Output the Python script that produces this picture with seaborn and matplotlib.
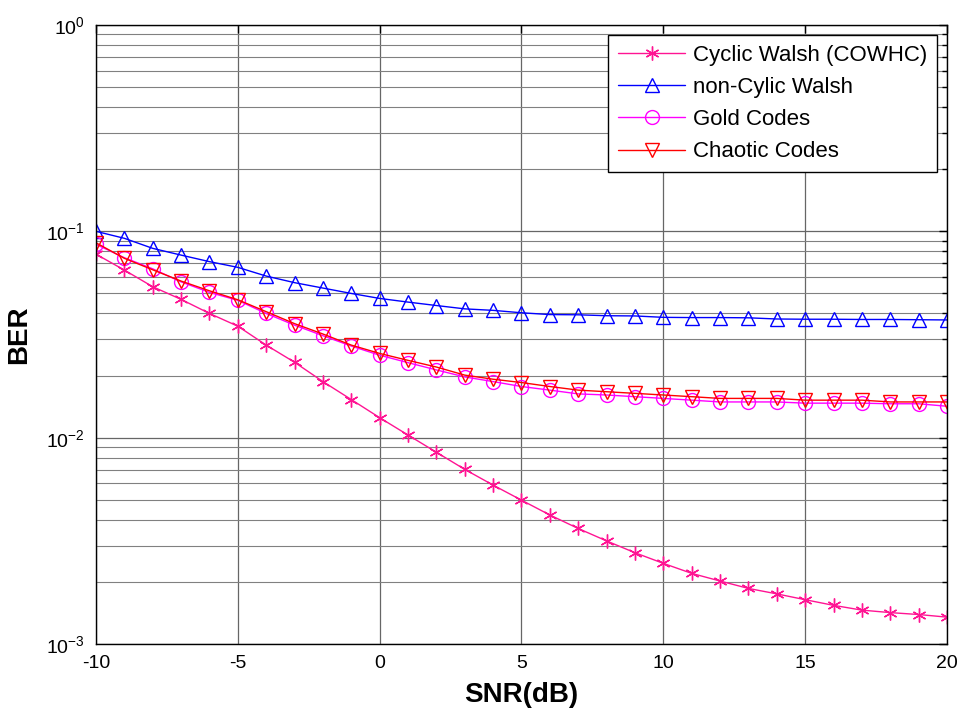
import numpy as np
import pandas as pd
import matplotlib
matplotlib.use("Agg")
import matplotlib.pyplot as plt
import seaborn as sns
from matplotlib.ticker import LogLocator, MultipleLocator, NullFormatter

# SNR grid (dB)
snr_db = list(range(-10, 21))

# BER curves for each spreading-code family
ber_cyclic_walsh = [
    0.0775, 0.0649, 0.0539, 0.0468, 0.0400, 0.0347, 0.0281, 0.0232, 0.0187, 0.0153,
    0.0125, 0.0103, 0.0085, 0.00702, 0.00589, 0.00498, 0.00422, 0.00363, 0.00316,
    0.00277, 0.00246, 0.00220, 0.00202, 0.00186, 0.00175, 0.00164, 0.00154,
    0.00146, 0.00142, 0.00139, 0.00135,
]
ber_noncyclic_walsh = [
    0.1000, 0.0925, 0.0827, 0.0767, 0.0713, 0.0669, 0.0607, 0.0564, 0.0531, 0.0500,
    0.0473, 0.0454, 0.0437, 0.0421, 0.0414, 0.0403, 0.0395, 0.0394, 0.0390,
    0.0389, 0.0383, 0.0382, 0.0382, 0.0381, 0.0376, 0.0375, 0.0375, 0.0374,
    0.0374, 0.0373, 0.0372,
]
ber_gold = [
    0.0865, 0.0745, 0.0658, 0.0569, 0.0506, 0.0463, 0.0400, 0.0351, 0.0312, 0.0278,
    0.0251, 0.0231, 0.0213, 0.0197, 0.0187, 0.0177, 0.0170, 0.0163, 0.0161,
    0.0158, 0.0155, 0.0152, 0.0149, 0.0149, 0.0149, 0.0147, 0.0147, 0.0147,
    0.0146, 0.0146, 0.0142,
]
ber_chaotic = [
    0.0880, 0.0740, 0.0651, 0.0574, 0.0515, 0.0466, 0.0408, 0.0357, 0.0318, 0.0281,
    0.0256, 0.0237, 0.0220, 0.0201, 0.0192, 0.0185, 0.0177, 0.0170, 0.0167,
    0.0164, 0.0161, 0.0158, 0.0155, 0.0155, 0.0155, 0.0152, 0.0152, 0.0152,
    0.0149, 0.0149, 0.0149,
]

series_names = ["Cyclic Walsh (COWHC)", "non-Cylic Walsh", "Gold Codes", "Chaotic Codes"]
series_values = [ber_cyclic_walsh, ber_noncyclic_walsh, ber_gold, ber_chaotic]
series_colors = ["#FF1493", "#0000FF", "#FF00FF", "#FF0000"]
series_markers = [(6, 2, 0), "^", "o", "v"]

df = pd.concat(
    [pd.DataFrame({"SNR": snr_db, "BER": vals, "code": name})
     for name, vals in zip(series_names, series_values)],
    ignore_index=True,
)

sns.set_theme(style="white")
plt.rcParams["font.family"] = ["Liberation Sans", "DejaVu Sans"]
plt.rcParams["mathtext.fontset"] = "custom"
plt.rcParams["mathtext.rm"] = "Liberation Sans"
plt.rcParams["mathtext.it"] = "Liberation Sans"
plt.rcParams["axes.unicode_minus"] = False
plt.rcParams["axes.labelcolor"] = "black"
plt.rcParams["text.color"] = "black"

fig = plt.figure(figsize=(9.61, 7.14), dpi=100)
ax = fig.add_axes([0.0999, 0.098, 0.8855, 0.867])

for name, color, marker in zip(series_names, series_colors, series_markers):
    sub = df[df["code"] == name]
    sns.lineplot(
        data=sub, x="SNR", y="BER", ax=ax, color=color, label=name,
        marker=marker, markersize=10, markerfacecolor="none",
        markeredgecolor=color, markeredgewidth=1.0, linewidth=1.0,
        estimator=None, errorbar=None,
    )

ax.set_yscale("log")
ax.set_xlim(-10, 20)
ax.set_ylim(1e-3, 1)
ax.xaxis.set_major_locator(MultipleLocator(5))
ax.yaxis.set_major_locator(LogLocator(base=10, numticks=10))
ax.yaxis.set_minor_locator(LogLocator(base=10, subs=np.arange(2, 10), numticks=20))
ax.yaxis.set_minor_formatter(NullFormatter())

ax.grid(True, which="major", axis="both", color="0.4", linewidth=0.9)
ax.grid(True, which="minor", axis="y", color="0.5", linewidth=0.8)
ax.set_axisbelow(True)

for spine in ax.spines.values():
    spine.set_visible(True)
    spine.set_color("black")
    spine.set_linewidth(1.0)

ax.tick_params(axis="both", which="both", direction="in", top=True, right=True,
               colors="black", labelsize=14)
ax.tick_params(which="major", length=6, width=1.0)
ax.tick_params(which="minor", length=3.5, width=1.0)
ax.tick_params(axis="x", pad=8)
ax.tick_params(axis="y", pad=8)

ax.set_xlabel("SNR(dB)", fontsize=20, fontweight="bold", labelpad=7)
ax.set_ylabel("BER", fontsize=20, fontweight="bold", labelpad=10)

leg = ax.legend(loc="upper right", fontsize=16, frameon=True, fancybox=False,
                framealpha=1.0, edgecolor="black", handlelength=3.0,
                handletextpad=0.35, labelspacing=0.5, borderpad=0.45,
                borderaxespad=0.45)
leg.get_frame().set_linewidth(1.0)

fig.savefig("out.png", dpi=100)
